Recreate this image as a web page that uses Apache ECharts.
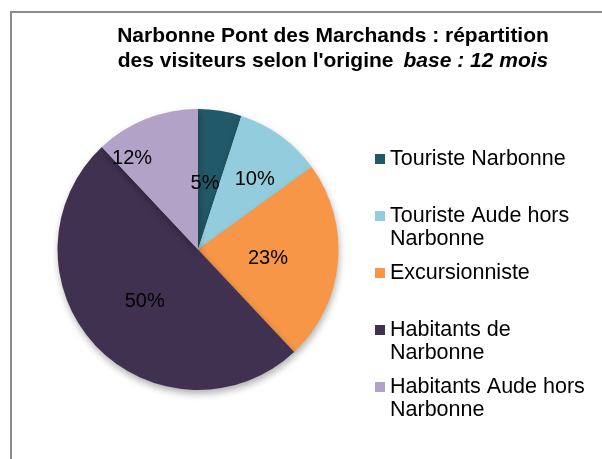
<!DOCTYPE html>
<html>
<head>
<meta charset="utf-8">
<script src="https://cdn.jsdelivr.net/npm/echarts@6/dist/echarts.min.js"></script>
<style>
  html, body { margin: 0; padding: 0; background: #fff; }
  #main { width: 602px; height: 459px; }
</style>
</head>
<body>
<div id="main"></div>
<script>
// categories and values (percent)
var categories = ['Touriste Narbonne', 'Touriste Aude hors Narbonne', 'Excursionniste', 'Habitants de Narbonne', 'Habitants Aude hors Narbonne'];
var legendLabels = ['Touriste Narbonne', 'Touriste Aude hors\nNarbonne', 'Excursionniste', 'Habitants de\nNarbonne', 'Habitants Aude hors\nNarbonne'];
var values = [5, 10, 23, 50, 12];
var colors = ['#215968', '#93CDDD', '#F79646', '#403151', '#B3A2C7'];

var FONT = 'Liberation Sans, Arial, sans-serif';
var legendTops = [159, 216, 273, 330, 387]; // icon centres
var LINE_H = 23;

// where Excel put the data labels: fraction of radius + angle shift (deg)
var labelRadius = [0.49, 0.65, 0.50, 0.52, 0.81];
var labelAngleAdj = [-3.2, 2.4, 0.3, 0, -13.8];

var CX = 198, CY = 249.5, R = 140.5;

var myChart = echarts.init(document.getElementById('main'));

// one legend per item, so two-line labels keep the icon on the first line
var legends = categories.map(function (name, i) {
  var twoLines = legendLabels[i].indexOf('\n') >= 0;
  return {
    data: [name],
    orient: 'vertical',
    left: 375,
    top: twoLines ? legendTops[i] - LINE_H * 1.5 : legendTops[i] - LINE_H / 2,
    padding: 0,
    itemWidth: 10,
    itemHeight: 10,
    icon: 'rect',
    selectedMode: false,
    formatter: function () { return (twoLines ? '\n' : '') + legendLabels[i]; },
    textStyle: {
      fontFamily: FONT,
      fontSize: 21.5,
      color: '#000',
      lineHeight: LINE_H
    }
  };
});

var total = values.reduce(function (a, b) { return a + b; }, 0);
var cum = 0;
var labelPos = values.map(function (v, i) {
  var mid = (cum + v / 2) / total * 360 + labelAngleAdj[i];
  cum += v;
  var a = mid * Math.PI / 180;
  // +2: digits sit above the middle of their text box
  return [CX + Math.sin(a) * R * labelRadius[i], CY - Math.cos(a) * R * labelRadius[i] + 2];
});

var option = {
  backgroundColor: '#fff',
  color: colors,
  title: {
    text: '{b|Narbonne Pont des Marchands : répartition}\n{b|des visiteurs selon l\'origine}  {i|base : 12 mois}',
    left: 333,
    top: 24,
    textAlign: 'center',
    padding: 0,
    textStyle: {
      rich: {
        b: { fontFamily: FONT, fontSize: 21, fontWeight: 'bold', color: '#000', lineHeight: 25 },
        i: { fontFamily: FONT, fontSize: 21, fontWeight: 'bold', fontStyle: 'italic', color: '#000', lineHeight: 25 }
      }
    }
  },
  legend: legends,
  graphic: [{
    type: 'rect',
    shape: { x: 11, y: 12, width: 620, height: 480 },
    style: { fill: 'none', stroke: '#8C8C8C', lineWidth: 2 },
    silent: true,
    z: -1
  }],
  series: [{
    type: 'pie',
    center: [CX, CY],
    radius: R,
    startAngle: 90,
    clockwise: true,
    avoidLabelOverlap: false,
    label: {
      show: true,
      position: 'inside',
      formatter: '{c}%',
      fontFamily: FONT,
      fontSize: 20,
      color: '#000'
    },
    labelLayout: function (params) {
      var p = labelPos[params.dataIndex];
      return { x: p[0], y: p[1], align: 'center', verticalAlign: 'middle' };
    },
    labelLine: { show: false },
    emphasis: { disabled: true },
    itemStyle: {
      borderWidth: 0,
      shadowBlur: 7,
      shadowOffsetX: 1,
      shadowOffsetY: 4,
      shadowColor: 'rgba(0,0,0,0.3)'
    },
    data: categories.map(function (name, i) {
      return { name: name, value: values[i] };
    })
  }]
};

myChart.setOption(option);
</script>
</body>
</html>
